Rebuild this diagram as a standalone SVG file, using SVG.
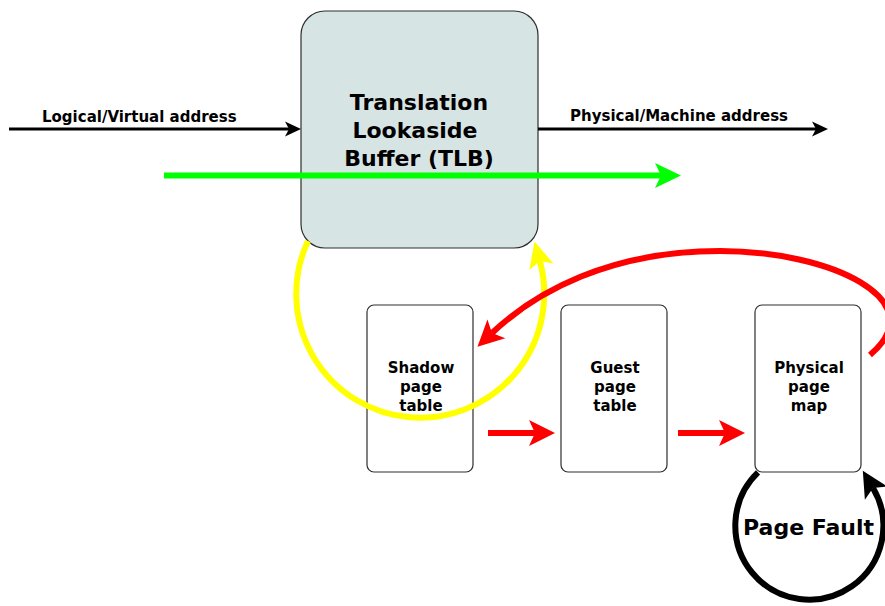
<svg xmlns="http://www.w3.org/2000/svg" width="885" height="606" viewBox="0 0 885 606">
  <style>
    .box { stroke: #2e2e2e; stroke-width: 1.2; }
    .label { font-family: "DejaVu Sans", "Liberation Sans", sans-serif; font-weight: bold; fill: #000; }
    .small { font-size: 15px; }
    .big { font-size: 22px; }
    .mid { text-anchor: middle; }
    .wire { fill: none; }
  </style>
  <defs>
    <!-- arrowheads: the path end sits on the notch, the tip runs ahead of it -->
    <marker id="headBlackSmall" markerUnits="userSpaceOnUse" orient="auto" refX="4" refY="0" markerWidth="20" markerHeight="20" overflow="visible">
      <path d="M0,-7.5 L16,0 L0,7.5 L4,0 Z" fill="#000"/>
    </marker>
    <marker id="headGreen" markerUnits="userSpaceOnUse" orient="auto" refX="6" refY="0" markerWidth="30" markerHeight="30" overflow="visible">
      <path d="M0,-12.5 L26,0 L0,12.5 L6,0 Z" fill="#00ff00"/>
    </marker>
    <marker id="headRed" markerUnits="userSpaceOnUse" orient="auto" refX="6" refY="0" markerWidth="30" markerHeight="30" overflow="visible">
      <path d="M0,-13 L26,0 L0,13 L6,0 Z" fill="#ff0000"/>
    </marker>
    <marker id="headYellow" markerUnits="userSpaceOnUse" orient="auto" refX="6" refY="0" markerWidth="30" markerHeight="30" overflow="visible">
      <path d="M0,-12.5 L26,0 L0,12.5 L6,0 Z" fill="#ffff00"/>
    </marker>
    <marker id="headBlack" markerUnits="userSpaceOnUse" orient="auto" refX="6" refY="0" markerWidth="30" markerHeight="30" overflow="visible">
      <path d="M0,-13 L26,0 L0,13 L6,0 Z" fill="#000"/>
    </marker>
  </defs>

  <rect width="885" height="606" fill="#fff"/>

  <!-- nodes -->
  <g id="tlb">
    <rect class="box" x="301" y="11" width="237" height="237" rx="24" ry="24" fill="#d7e4e4"/>
    <text class="label big mid" x="419" y="110">Translation</text>
    <text class="label big mid" x="415" y="138">Lookaside</text>
    <text class="label big mid" x="419" y="166">Buffer (TLB)</text>
  </g>

  <g id="shadow-page-table">
    <rect class="box" x="367" y="305" width="106" height="167" rx="7" ry="7" fill="#fff"/>
  </g>

  <g id="guest-page-table">
    <rect class="box" x="561" y="305" width="106" height="167" rx="7" ry="7" fill="#fff"/>
    <text class="label small mid" x="615" y="373">Guest</text>
    <text class="label small mid" x="615" y="392">page</text>
    <text class="label small mid" x="615" y="411">table</text>
  </g>

  <g id="physical-page-map">
    <rect class="box" x="755" y="305" width="106" height="167" rx="7" ry="7" fill="#fff"/>
    <text class="label small mid" x="809" y="373">Physical</text>
    <text class="label small mid" x="809" y="392">page</text>
    <text class="label small mid" x="809" y="411">map</text>
  </g>

  <!-- connectors -->
  <g id="connectors">
    <!-- address lines -->
    <line class="wire" x1="9" y1="129" x2="289" y2="129" stroke="#000" stroke-width="3" marker-end="url(#headBlackSmall)"/>
    <text class="label small" x="42" y="122">Logical/Virtual address</text>
    <line class="wire" x1="538" y1="129" x2="816" y2="129" stroke="#000" stroke-width="3" marker-end="url(#headBlackSmall)"/>
    <text class="label small" x="570" y="121">Physical/Machine address</text>

    <!-- TLB hit path -->
    <line class="wire" x1="164" y1="175.5" x2="661" y2="175.5" stroke="#00ff00" stroke-width="6" marker-end="url(#headGreen)"/>

    <!-- shadow table refill loop -->
    <path class="wire" d="M 308 241 A 124 124 0 1 0 539.8 260.9" stroke="#ffff00" stroke-width="6" marker-end="url(#headYellow)"/>

    <!-- table walk -->
    <line class="wire" x1="488" y1="433" x2="535" y2="433" stroke="#ff0000" stroke-width="6" marker-end="url(#headRed)"/>
    <line class="wire" x1="678" y1="433" x2="725" y2="433" stroke="#ff0000" stroke-width="6" marker-end="url(#headRed)"/>

    <!-- update back into the shadow table -->
    <path class="wire" d="M 870 355 C 935 300, 830 251, 720 251 C 610 251, 535.6 291.8, 492 333" stroke="#ff0000" stroke-width="6" marker-end="url(#headRed)"/>

    <!-- page fault loop -->
    <path class="wire" d="M 758 472.4 A 74 74 0 1 0 873 488" stroke="#000" stroke-width="6" marker-end="url(#headBlack)"/>
  </g>

  <!-- labels drawn above the loops -->
  <g id="shadow-page-table-label">
    <text class="label small mid" x="421" y="373">Shadow</text>
    <text class="label small mid" x="421" y="392">page</text>
    <text class="label small mid" x="421" y="411">table</text>
  </g>
  <text id="page-fault-label" class="label big" x="743" y="535">Page Fault</text>
</svg>
